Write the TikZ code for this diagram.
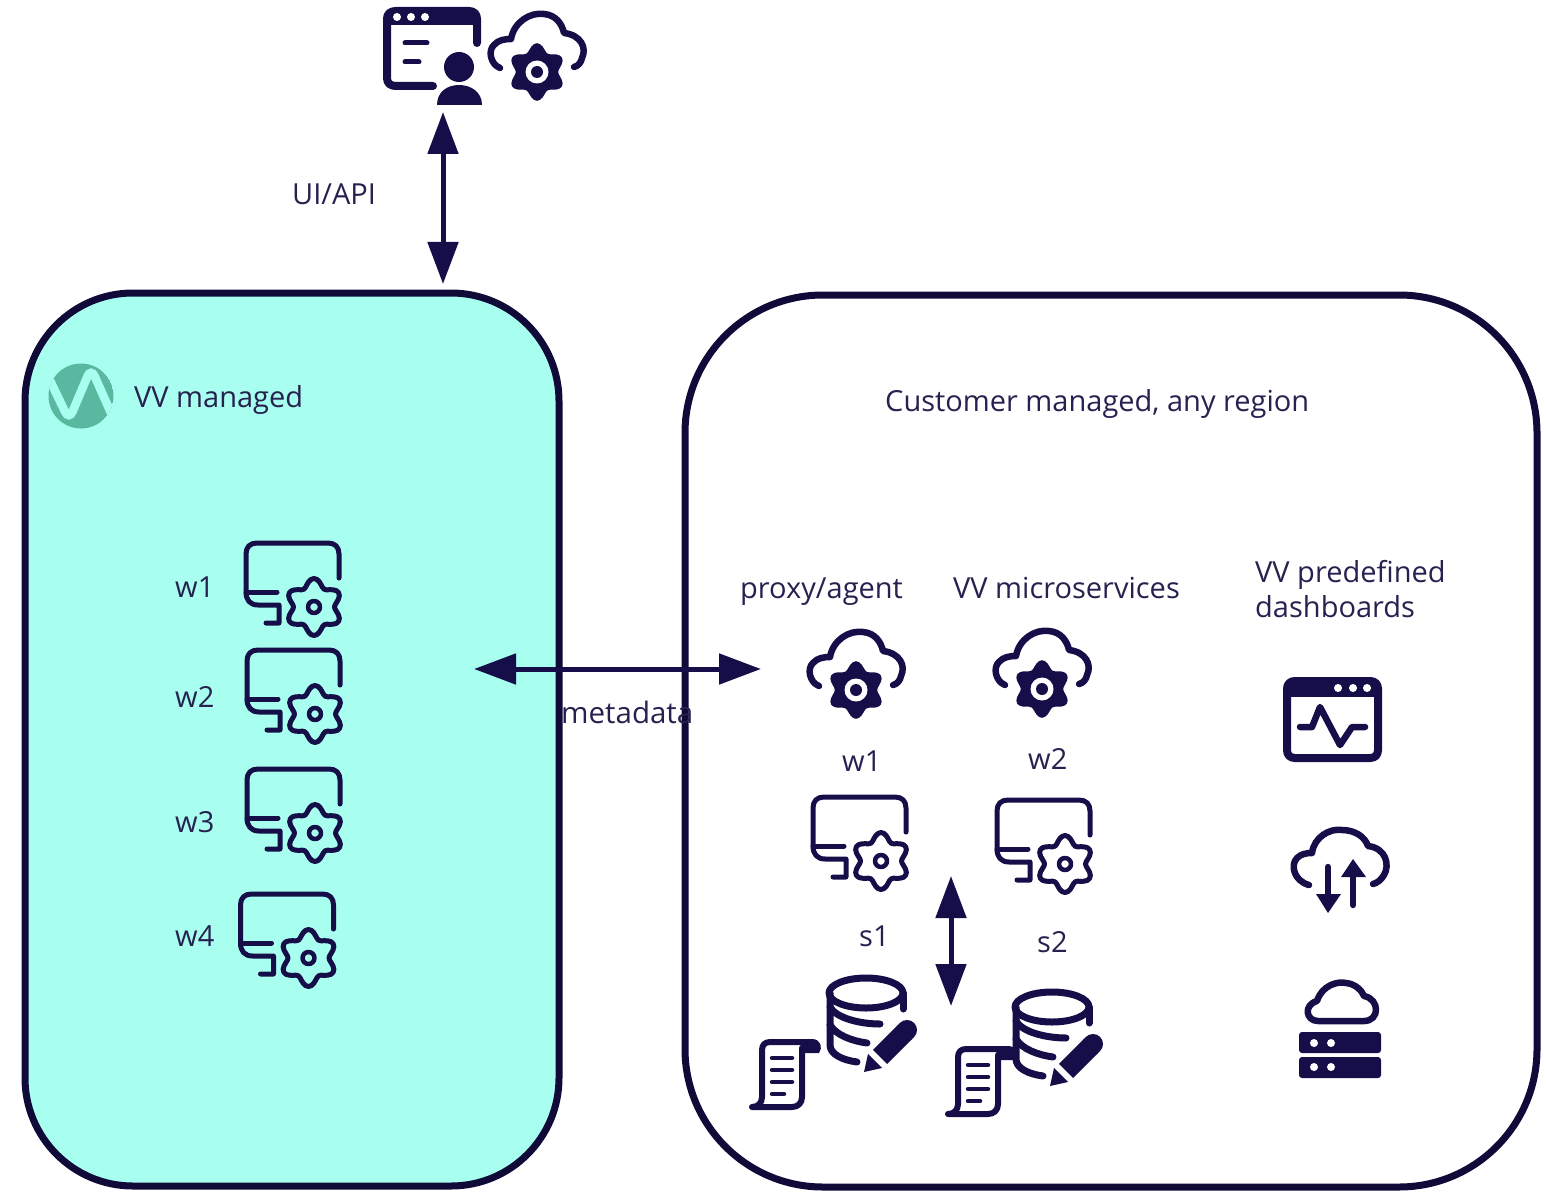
\documentclass[tikz,border=0pt]{standalone}
\usepackage{fontspec}
\setmainfont{Open Sans}
\usetikzlibrary{arrows.meta}
\definecolor{ink}{HTML}{150E48}
\definecolor{edge}{HTML}{100A38}
\definecolor{inktext}{HTML}{27214F}
\definecolor{mint}{HTML}{A8FFF0}
\definecolor{logoteal}{HTML}{5BB8A0}
\tikzset{
  panel/.style={draw=edge,line width=7pt,rounded corners=#1,inner sep=0pt,outer sep=0pt},
  iconline/.style={draw=ink,line width=5pt,line cap=round,line join=round,fill=none},
  iconfill/.style={fill=ink,draw=none},
  label/.style={font=\fontsize{29}{33}\selectfont,text=inktext,inner sep=0pt,anchor=base west},
  biarrow/.style={draw=ink,line width=5pt,{Triangle[width=30pt,length=42pt]}-{Triangle[width=30pt,length=42pt]}},
  % monitor with an outlined cog
  monitorcog/.pic={
    \draw[iconline] (110,48) -- (110,24) .. controls (110,17) and (106,13) .. (99,13) -- (28,13)
      .. controls (21,13) and (17,17) .. (17,24) -- (17,62) .. controls (17,70) and (21,75) .. (29,75) -- (50,75) -- (50,93) -- (37,93);
    \draw[iconline] (17,62) -- (48,62);
    \draw[iconline] plot[smooth cycle,domain=0:354,samples=60]
      ({85+(24.5+4*cos(6*\x))*sin(\x)},{77-(24.5+4*cos(6*\x))*cos(\x)});
    \draw[iconline,line width=4.5pt] (85,77) circle (6);
  },
  % cloud with a solid cog
  cloudcog/.pic={
    \draw[iconline,line width=6.5pt] (130,68) .. controls (120,64) and (118,50) .. (124,45) .. controls (128,40) and (135,39) .. (141,39)
      .. controls (144,22) and (160,12) .. (174,14) .. controls (186,15) and (192,24) .. (194,33)
      .. controls (211,35) and (217,48) .. (212,58) .. controls (211,63) and (208,66) .. (204,67);
    \fill[ink] plot[smooth cycle,domain=0:354,samples=60]
      ({167+(25+3.8*cos(6*\x))*sin(\x)},{72-(25+3.8*cos(6*\x))*cos(\x)});
    \fill[white] (167,72) circle (11.5);
    \fill[ink] (167,72) circle (6);
  },
  % browser window with a user in front
  userwindow/.pic={
    \draw[iconline,line width=8pt] (107,43) -- (107,19) .. controls (107,14) and (104,11) .. (99,11) -- (26,11)
      .. controls (20,11) and (17,14) .. (17,19) -- (17,78) .. controls (17,83) and (20,86) .. (26,86) -- (63,86);
    \fill[ink] (17,11) rectangle (107,25);
    \foreach \d in {27,41,55} \fill[white] (\d,17) circle (4);
    \draw[iconline,line width=5pt] (35,43) -- (57,43) (35,62) -- (49,62);
    \fill[ink] (89,67) circle (15);
    \fill[ink] (67,105) .. controls (67,92) and (77,85) .. (89,85) .. controls (101,85) and (112,92) .. (112,105) -- cycle;
  },
  % database cylinder with a pencil
  dbpencil/.pic={
    \draw[iconline,line width=7pt] (126,33) ellipse (37 and 15);
    \draw[iconline,line width=7pt] (90,33) -- (90,85) .. controls (90,94) and (102,100) .. (117,102);
    \draw[iconline,line width=7pt] (163,33) -- (163,49);
    \draw[iconline,line width=7pt] (90,47) .. controls (96,58) and (120,64) .. (140,64);
    \draw[iconline,line width=7pt] (90,65) .. controls (96,75) and (112,81) .. (127,83);
    \draw[ink,line width=20pt,line cap=butt] (140,97) -- (165,72);
    \draw[ink,line width=20pt,line cap=round] (165,72) -- (167,70);
    \fill[ink] (124,112) -- (128,94) -- (142,108) -- cycle;
  },
  % paper scroll
  scrollicon/.pic={
    \draw[iconline,line width=6pt] (12,147) -- (52,147) .. controls (58,147) and (62,143) .. (62,137) -- (62,88)
      (12,147) .. controls (18,147) and (22,143) .. (22,137) -- (22,90) .. controls (22,85) and (25,82) .. (30,82) -- (72,82);
    \fill[ink] (62,79) -- (72,79) .. controls (81,79) and (83,88) .. (79,93) -- (62,93) -- cycle;
    \draw[iconline,line width=4.5pt] (32,98) -- (52,98) (32,110) -- (52,110) (32,122) -- (52,122) (32,134) -- (44,134);
  },
  % dashboard window with a pulse trace
  dashicon/.pic={
    \draw[iconline,line width=8pt] (17,24) .. controls (17,19) and (20,16) .. (25,16) -- (100,16)
      .. controls (105,16) and (108,19) .. (108,24) -- (108,85) .. controls (108,90) and (105,93) .. (100,93) -- (25,93)
      .. controls (20,93) and (17,90) .. (17,85) -- cycle;
    \fill[ink] (17,16) rectangle (108,32);
    \foreach \d in {68,83,97} \fill[white] (\d,23) circle (4);
    \draw[iconline,line width=6.5pt] (30,62) -- (42,62) -- (50,42) -- (70,80) -- (82,62) -- (95,62);
  },
  % cloud with up and down arrows
  cloudarrows/.pic={
    \draw[iconline,line width=6.5pt] (39,220) .. controls (24,216) and (20,200) .. (27,193) .. controls (31,189) and (36,188) .. (42,188)
      .. controls (44,172) and (60,163) .. (72,165) .. controls (85,165) and (95,172) .. (98,181)
      .. controls (116,183) and (120,200) .. (114,210) .. controls (111,215) and (107,218) .. (103,219);
    \draw[iconline,line width=6.5pt] (58,202) -- (58,232) (83,240) -- (83,210);
    \fill[ink] (46,229) -- (71,229) -- (58,248) -- cycle;
    \fill[ink] (71,212) -- (96,212) -- (83,194) -- cycle;
  },
  % cloud above a two-unit server rack
  cloudserver/.pic={
    \draw[iconline,line width=6.5pt] (94,356) -- (48,356) .. controls (36,356) and (33,340) .. (47,336)
      .. controls (52,320) and (68,316) .. (76,318) .. controls (86,319) and (92,326) .. (94,331)
      .. controls (110,334) and (110,356) .. (94,356) -- cycle;
    \fill[ink,rounded corners=3pt] (29,367) rectangle (111,388);
    \fill[ink,rounded corners=3pt] (29,392) rectangle (111,413);
    \foreach \d in {44,61} {\fill[white] (\d,378) circle (4); \fill[white] (\d,402) circle (4);}
  }
}
\begin{document}
\begin{tikzpicture}[x=1pt,y=-1pt]
  \useasboundingbox (0,0) rectangle (1546,1198);

  % the two deployment zones
  \node[panel=108pt,fill=mint,minimum width=534pt,minimum height=893pt] (vvpanel) at (292,739.5) {};
  \node[panel=138pt,minimum width=852pt,minimum height=892pt] (custpanel) at (1111,741) {};

  % logo
  \begin{scope}
    \clip (81,396) circle (32.5);
    \fill[logoteal] (81,396) circle (32.5);
    \draw[mint,line width=8.5pt,rounded corners=9pt] (46,372) -- (69,420) -- (91,368) -- (115,422);
  \end{scope}

  % top icons
  \pic at (370,0) {userwindow};
  \pic at (370,0) {cloudcog};

  % workers in the managed zone
  \pic at (229,530) {monitorcog};
  \pic at (230,637) {monitorcog};
  \pic at (230,756) {monitorcog};
  \pic at (223.5,881) {monitorcog};

  % customer zone icons
  \pic at (689,618) {cloudcog};
  \pic at (875,617) {cloudcog};
  \pic at (796,784) {monitorcog};
  \pic at (980,787) {monitorcog};
  \pic at (740,960) {dbpencil};
  \pic at (740,960) {scrollicon};
  \pic at (926,974) {dbpencil};
  \pic at (936,967) {scrollicon};
  \pic at (1270,665) {dashicon};
  \pic at (1270,665) {cloudarrows};
  \pic at (1270,665) {cloudserver};

  % arrow end points
  \coordinate (apiTop) at (443,112);
  \coordinate (apiBottom) at (443,284);
  \coordinate (metaLeft) at (474,669);
  \coordinate (metaRight) at (761,669);
  \coordinate (syncTop) at (951,876);
  \coordinate (syncBottom) at (951,1006);
  \draw[biarrow] (apiTop) -- (apiBottom);
  \draw[biarrow] (metaLeft) -- (metaRight);
  \draw[biarrow] (syncTop) -- (syncBottom);

  % labels
  \node[label] (uiapi) at (292,205) {UI/API};
  \node[label] (vvman) at (134,407) {VV managed};
  \node[label] (custman) at (885,411) {Customer managed, any region};
  \node[label] (lw1) at (175,597) {w1};
  \node[label] (lw2) at (175,707) {w2};
  \node[label] (lw3) at (175,832) {w3};
  \node[label] (lw4) at (175,946) {w4};
  \node[label] (proxy) at (740,598) {proxy/agent};
  \node[label] (micro) at (953,598) {VV microservices};
  \node[label] (predef) at (1255,582) {VV predefined};
  \node[label] (dash) at (1255,617) {dashboards};
  \node[label,font=\fontsize{29.5}{34}\selectfont] (meta) at (561,723) {metadata};
  \node[label] (cw1) at (842,771) {w1};
  \node[label] (cw2) at (1028,769) {w2};
  \node[label] (cs1) at (859,946) {s1};
  \node[label] (cs2) at (1037,952) {s2};
\end{tikzpicture}
\end{document}
